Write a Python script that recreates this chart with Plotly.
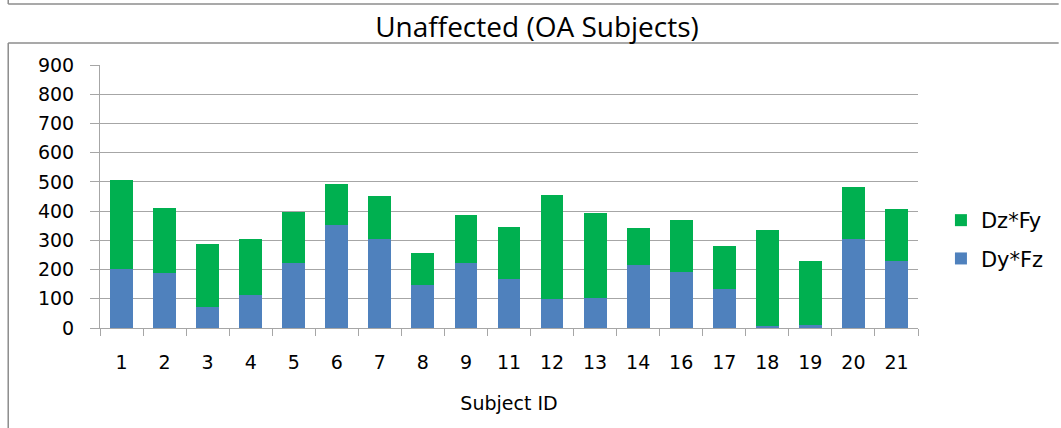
import plotly.graph_objects as go

# Subject IDs on the category axis
subjects = ["1", "2", "3", "4", "5", "6", "7", "8", "9", "11",
            "12", "13", "14", "16", "17", "18", "19", "20", "21"]

# Stacked components per subject
dy_fz = [203, 187, 72, 114, 221, 352, 305, 148, 223, 166,
         100, 103, 214, 193, 132, 8, 11, 303, 231]
dz_fy = [303, 224, 216, 189, 177, 141, 147, 110, 163, 179,
         355, 289, 129, 176, 148, 329, 220, 181, 177]

y_ticks = [0, 100, 200, 300, 400, 500, 600, 700, 800, 900]

BLUE = "#4F81BD"
GREEN = "#00B050"
GRID = "#a6a6a6"
BODY_FONT = "DejaVu Sans"

# Plot-area geometry in pixels (used to place frame lines in paper coords)
W, H = 1061, 428
L, R, T, B = 100, 920, 65, 328


def px(x):
    return (x - L) / (R - L)


def py(y):
    return (B - y) / (B - T)


fig = go.Figure()
fig.add_trace(go.Bar(
    x=subjects, y=dy_fz, name="Dy*Fz", marker_color=BLUE,
    marker_line_width=0, legendgroup="b", legendrank=2,
))
fig.add_trace(go.Bar(
    x=subjects, y=dz_fy, name="Dz*Fy", marker_color=GREEN,
    marker_line_width=0, legendgroup="a", legendrank=1,
))

frame = dict(type="line", xref="paper", yref="paper",
             line=dict(color="#8c8c8c", width=1.5))
shapes = [
    dict(frame, x0=px(8), x1=px(W), y0=py(4), y1=py(4)),
    dict(frame, x0=px(8), x1=px(8), y0=py(0), y1=py(4)),
    dict(frame, x0=px(8), x1=px(W), y0=py(43), y1=py(43)),
    dict(frame, x0=px(8), x1=px(8), y0=py(43), y1=py(H)),
]

fig.update_layout(
    width=W, height=H,
    barmode="stack",
    bargap=0.47,
    plot_bgcolor="white",
    paper_bgcolor="white",
    margin=dict(l=L, r=W - R, t=T, b=H - B),
    title=dict(
        text="Unaffected (OA Subjects)",
        font=dict(family="Open Sans", size=28, color="#000000"),
        x=537 / W, xanchor="center", xref="container",
        y=1 - 27 / H, yanchor="middle", yref="container",
    ),
    showlegend=True,
    legend=dict(
        x=px(943), xanchor="left",
        y=py(239.5), yanchor="middle",
        traceorder="grouped",
        tracegroupgap=8,
        font=dict(family=BODY_FONT, size=21, color="#000000"),
        bgcolor="rgba(0,0,0,0)",
    ),
    shapes=shapes,
)

fig.update_xaxes(
    type="category",
    tickson="boundaries",
    ticks="outside", ticklen=7, tickcolor=GRID, tickwidth=1,
    showline=True, linecolor=GRID, linewidth=1,
    showgrid=False,
    ticklabelstandoff=17,
    tickfont=dict(family=BODY_FONT, size=19, color="#000000"),
    title=dict(text="Subject ID", standoff=24,
               font=dict(family=BODY_FONT, size=19, color="#000000")),
)

fig.update_yaxes(
    range=[0, 900],
    tickvals=y_ticks,
    ticks="outside", ticklen=9, tickcolor=GRID, tickwidth=1,
    showline=True, linecolor=GRID, linewidth=1,
    showgrid=True, gridcolor=GRID, gridwidth=1,
    zeroline=False,
    ticklabelstandoff=12,
    tickfont=dict(family=BODY_FONT, size=19, color="#000000"),
)

fig.write_html("out.html")
